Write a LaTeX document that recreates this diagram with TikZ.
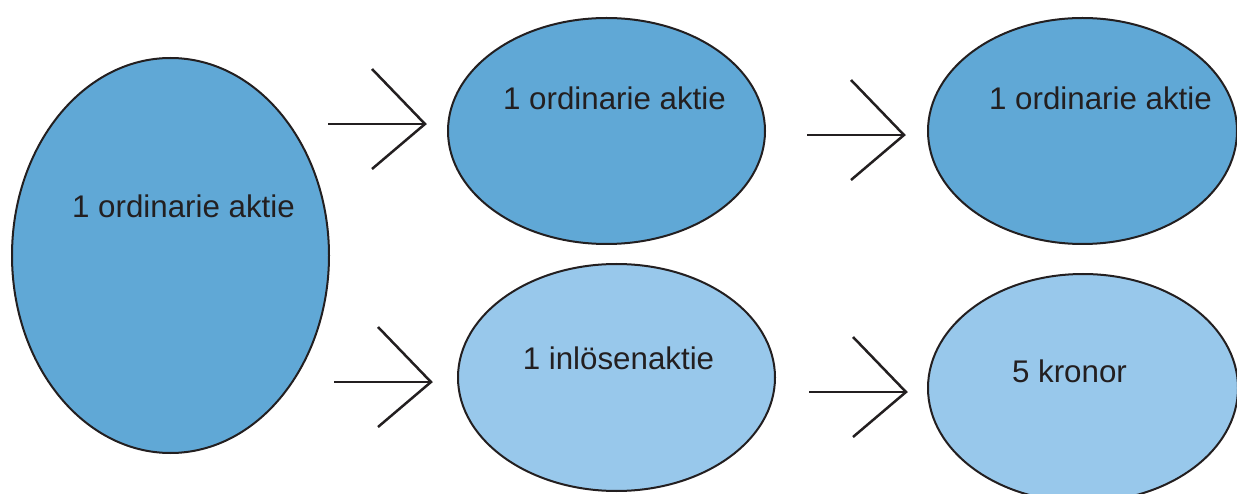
\documentclass[tikz,border=0pt]{standalone}
\usepackage{fontspec}
\setmainfont{Liberation Sans}
\usetikzlibrary{shapes.geometric}
\definecolor{darkfill}{RGB}{96,168,214}
\definecolor{lightfill}{RGB}{152,200,235}
\definecolor{ink}{RGB}{35,31,32}
\tikzset{
  oval/.style={ellipse, draw=ink, line width=2pt, inner sep=0pt},
  ovaldark/.style={oval, fill=darkfill},
  ovallight/.style={oval, fill=lightfill},
  lbl/.style={anchor=base, text=ink, inner sep=0pt, font=\fontsize{31.3}{36}\selectfont},
  arrline/.style={draw=ink, line width=2.5pt},
}
\begin{document}
\begin{tikzpicture}[x=1pt, y=-1pt]
\useasboundingbox (0,0) rectangle (1237,494);
\clip (0,0) rectangle (1237,494);
% ellipses
\node[ovaldark, minimum width=317pt, minimum height=395pt] (big) at (170.5,255.5) {};
\node[ovaldark, minimum width=317pt, minimum height=226pt] (tm) at (606.5,131) {};
\node[ovaldark, minimum width=309pt, minimum height=226pt] (tr) at (1082.5,131) {};
\node[ovallight, minimum width=317pt, minimum height=227pt] (bm) at (616.5,377.5) {};
\node[ovallight, minimum width=310pt, minimum height=228pt] (br) at (1083,388) {};
% labels
\node[lbl] (tbig) at (183.5,218) {1 ordinarie aktie};
\node[lbl] (ttm) at (614.5,110) {1 ordinarie aktie};
\node[lbl] (ttr) at (1100.5,110) {1 ordinarie aktie};
\node[lbl] (tbm) at (618.5,370) {1 inlösenaktie};
\node[lbl] (tbr) at (1069.5,382) {5 kronor};
% arrow end points
\coordinate (a1s) at (328,124);  \coordinate (a1e) at (425,124);
\coordinate (a2s) at (807,135);  \coordinate (a2e) at (904,135);
\coordinate (a3s) at (334,382);  \coordinate (a3e) at (431,382);
\coordinate (a4s) at (809,392);  \coordinate (a4e) at (906,392);
% arrows
\foreach \s/\t in {a1s/a1e, a2s/a2e, a3s/a3e, a4s/a4e}{
  \draw[arrline] (\s) -- (\t);
  \draw[arrline, line join=miter] (\t) ++(-53,-55) -- (\t) -- ++(-53,45);
}
\end{tikzpicture}
\end{document}
